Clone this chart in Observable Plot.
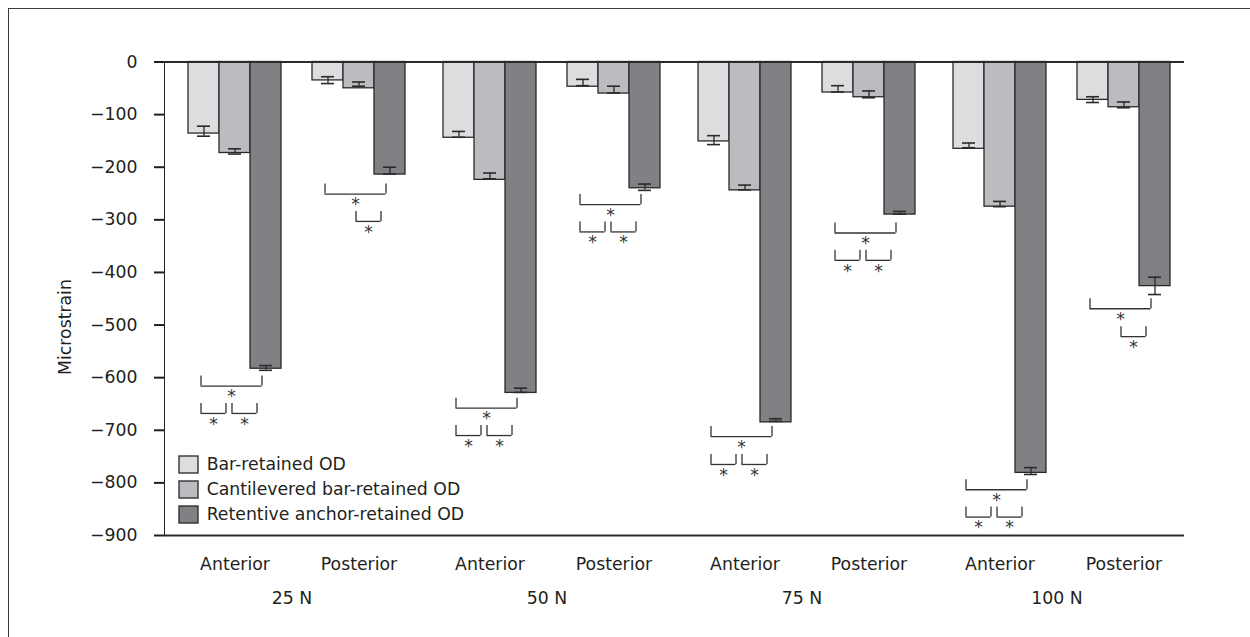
<!DOCTYPE html>
<html><head><meta charset="utf-8">
<script src="https://cdn.jsdelivr.net/npm/d3@7"></script>
<script src="https://cdn.jsdelivr.net/npm/@observablehq/plot@0.6"></script>
<style>
html,body{margin:0;padding:0;background:#fff;}
#wrap{position:relative;width:1250px;height:637px;overflow:hidden;font-family:"DejaVu Sans",sans-serif;color:#231f20;}
#frame{position:absolute;left:8px;top:8px;width:1400px;height:800px;border-top:1.4px solid #3a3a3a;border-left:1.4px solid #3a3a3a;}
#chart{position:absolute;left:0;top:0;}
#ylabel{position:absolute;left:65px;top:327px;transform:translate(-50%,-50%) rotate(-90deg);font-size:17.3px;white-space:nowrap;}
#legend{position:absolute;left:179px;top:454px;}
#legend svg{overflow:visible;}
#legend svg rect{stroke:#333;stroke-width:1.4px;}
#legend [class$="-swatch"]{padding-bottom:5px !important;}
#chart [aria-label^="y-axis"]{stroke-width:2px;}
</style></head><body>
<div id="wrap"><div id="frame"></div><div id="chart"></div><div id="ylabel">Microstrain</div><div id="legend"></div></div>
<script>
const forces = ["25 N", "50 N", "75 N", "100 N"];
const positions = ["Anterior", "Posterior"];
const series = ["Bar-retained OD", "Cantilevered bar-retained OD", "Retentive anchor-retained OD"];
const colors = ["#dcdddf", "#bbbcbf", "#808185"];
const yTicks = [0, -100, -200, -300, -400, -500, -600, -700, -800, -900];

// order of groups: 25A, 25P, 50A, 50P, 75A, 75P, 100A, 100P
const barRetained  = [-136, -35, -144, -47, -151, -58, -165, -72];
const cantilevered = [-173, -50, -224, -60, -244, -67, -275, -86];
const retentive    = [-583, -214, -629, -240, -685, -290, -781, -426];
const barErrTop     = [-122, -28, -132, -33, -140, -45, -154, -66];
const barErrBottom  = [-141, -41, -143, -45, -157, -57, -163, -77];
const cantErrTop    = [-165, -38, -211, -46, -234, -55, -265, -76];
const cantErrBottom = [-175, -46, -222, -59, -243, -68, -275, -87];
const retErrTop     = [-577, -200, -620, -232, -678, -284, -771, -409];
const retErrBottom  = [-586, -213, -628, -244, -683, -289, -784, -442];

// significance brackets (series index from -> to, level of the bracket line)
const bracketForce    = ["25 N","25 N","25 N","25 N","25 N","50 N","50 N","50 N","50 N","50 N","50 N","75 N","75 N","75 N","75 N","75 N","75 N","100 N","100 N","100 N","100 N","100 N"];
const bracketPosition = ["Anterior","Anterior","Anterior","Posterior","Posterior","Anterior","Anterior","Anterior","Posterior","Posterior","Posterior","Anterior","Anterior","Anterior","Posterior","Posterior","Posterior","Anterior","Anterior","Anterior","Posterior","Posterior"];
const bracketFrom     = [0, 0, 1, 0, 1, 0, 0, 1, 0, 0, 1, 0, 0, 1, 0, 0, 1, 0, 0, 1, 0, 1];
const bracketTo       = [2, 1, 2, 2, 2, 2, 1, 2, 2, 1, 2, 2, 1, 2, 2, 1, 2, 2, 1, 2, 2, 2];
const bracketLevel    = [-616, -668, -668, -251, -303, -658, -710, -710, -271, -323, -323, -712, -765, -765, -325, -377, -377, -813, -865, -865, -469, -522];
const bracketTick = 19;

const slot = (p, s) => `${p} · ${s}`;
const slotDomain = positions.flatMap((p, i) => [...(i ? ["spacer"] : []), ...series.map(s => slot(p, s))]);
const tickSlots = positions.map(p => slot(p, series[1]));

const means = [barRetained, cantilevered, retentive];
const tops = [barErrTop, cantErrTop, retErrTop];
const bottoms = [barErrBottom, cantErrBottom, retErrBottom];
const groups = forces.flatMap(f => positions.map(p => ({force: f, position: p})));
const rows = groups.flatMap((g, gi) => series.map((s, si) => ({
  force: g.force, slot: slot(g.position, s), series: s,
  value: means[si][gi], top: tops[si][gi], bottom: bottoms[si][gi]
})));

const brackets = bracketForce.map((f, i) => ({
  id: i, force: f, level: bracketLevel[i], tickTop: bracketLevel[i] + bracketTick,
  from: slot(bracketPosition[i], series[bracketFrom[i]]),
  to: slot(bracketPosition[i], series[bracketTo[i]]),
  wide: bracketTo[i] - bracketFrom[i] > 1
}));
const wideBr = brackets.filter(b => b.wide);
const narrowBr = brackets.filter(b => !b.wide);

const ink = "#2a2a2a";
const bInk = "#333";
function bracketMarks(data, bw, span, shiftL, shiftR) {
  // bracket drawn from the centre of the first bar to the centre of the last one (small nudges for legibility)
  return [
    Plot.ruleY(data, {fx: "force", x1: "from", x2: "to", y: "level", insetLeft: bw / 2 + shiftL, insetRight: bw / 2 - shiftR, stroke: bInk, strokeWidth: 1.3}),
    Plot.ruleX(data, {fx: "force", x: "from", y1: "level", y2: "tickTop", dx: shiftL, stroke: bInk, strokeWidth: 1.3}),
    Plot.ruleX(data, {fx: "force", x: "to", y1: "level", y2: "tickTop", dx: shiftR, stroke: bInk, strokeWidth: 1.3}),
    Plot.text(data, {fx: "force", x: "from", y: "level", text: () => "*", lineAnchor: "top", dy: 4,
      dx: (span * bw + shiftL + shiftR) / 2, fontSize: 17.3, fill: bInk})
  ];
}
function makePlot(bw) {
  return Plot.plot({
    width: 1250, height: 637,
    marginTop: 61.5, marginBottom: 102, marginLeft: 162, marginRight: 65,
    style: {fontFamily: "'DejaVu Sans', sans-serif", fontSize: "17.3px", color: "#231f20", background: "transparent", overflow: "visible"},
    fx: {domain: forces, padding: 0, axis: "bottom", tickSize: 0, tickPadding: 56, label: null},
    x: {domain: slotDomain, paddingInner: 0, paddingOuter: 0.569, align: 0.62, ticks: tickSlots,
        tickFormat: d => d.split(" · ")[0], tickSize: 0, tickPadding: 22, label: null},
    y: {domain: [-900, 0], ticks: yTicks, tickSize: 10, tickPadding: 17, line: true, label: null, tickFormat: d3.format("d")},
    color: {domain: series, range: colors},
    marks: [
      Plot.barY(rows, {fx: "force", x: "slot", y: "value", fill: "series", stroke: ink, strokeWidth: 1.3}),
      Plot.ruleX(rows, {fx: "force", x: "slot", y1: "top", y2: "bottom", stroke: ink, strokeWidth: 1.3}),
      Plot.tickY(rows, {fx: "force", x: "slot", y: "top", inset: 9, stroke: ink, strokeWidth: 1.6}),
      Plot.tickY(rows, {fx: "force", x: "slot", y: "bottom", inset: 9, stroke: ink, strokeWidth: 1.6}),
      Plot.ruleY([0], {stroke: ink, strokeWidth: 2.2}),
      Plot.ruleY([-900], {stroke: ink, strokeWidth: 2.2}),
      ...bracketMarks(wideBr, bw, 2, -3, -4),
      ...bracketMarks(narrowBr, bw, 1, -3, -9)
    ]
  });
}
const draft = makePlot(0);
const bw = draft.scale("x").bandwidth || 0;
const chart = makePlot(bw);
document.getElementById("chart").append(chart);

const legend = Plot.legend({
  color: {domain: series, range: colors},
  columns: 1, swatchWidth: 19, swatchHeight: 17,
  style: {fontFamily: "'DejaVu Sans', sans-serif", fontSize: "17.3px", color: "#231f20"}
});
document.getElementById("legend").append(legend);
</script></body></html>
